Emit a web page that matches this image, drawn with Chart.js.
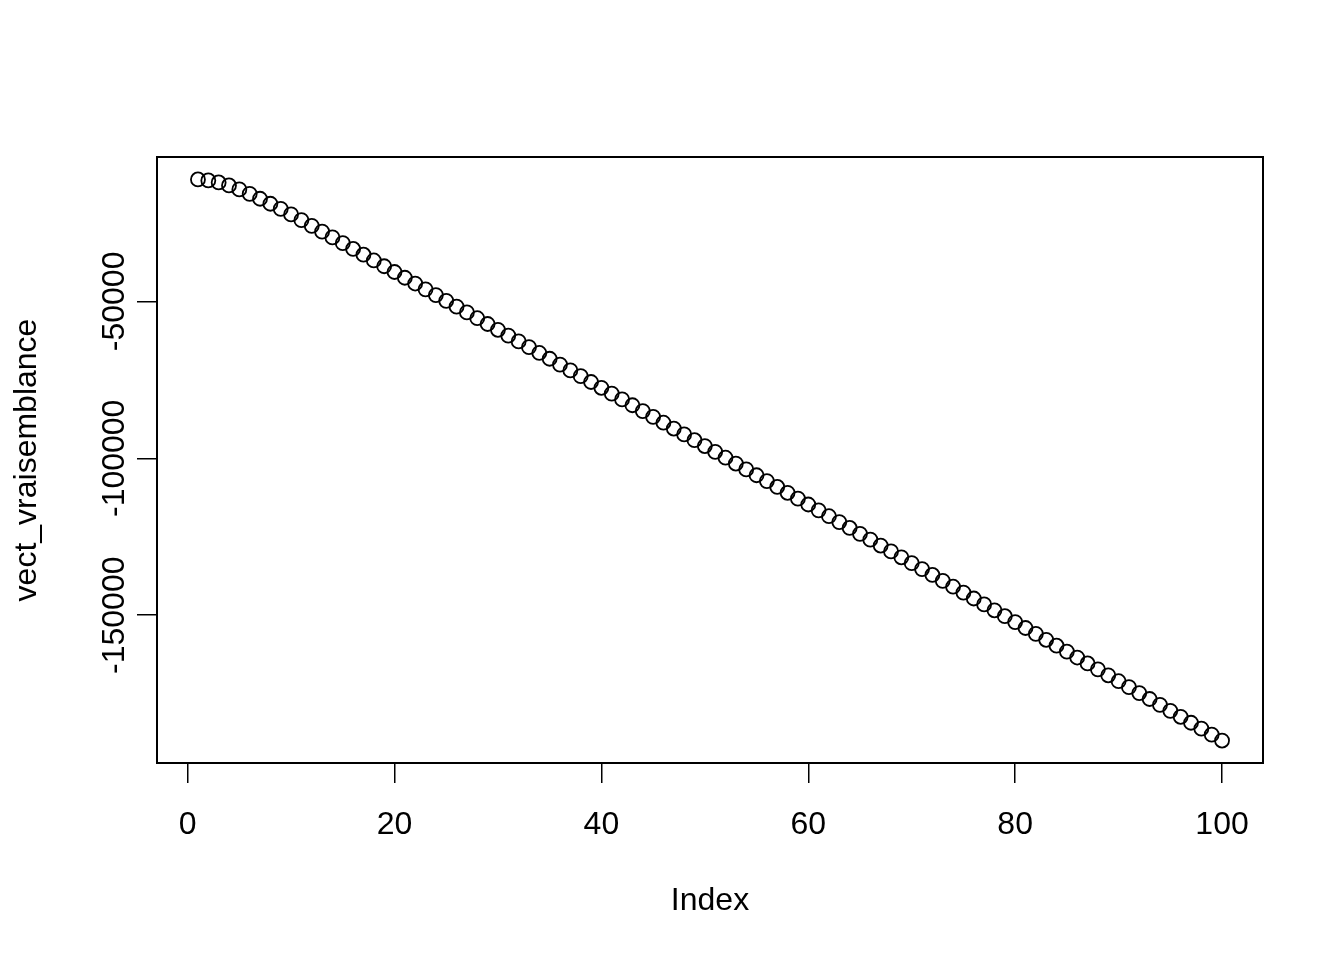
<!DOCTYPE html>
<html>
<head>
<meta charset="utf-8">
<script src="https://cdn.jsdelivr.net/npm/chart.js@4"></script>
<style>
    html, body { margin: 0; padding: 0; background: #fff; }
    #wrap { width: 1344px; height: 960px; }
</style>
</head>
<body>
<div id="wrap"><canvas id="plot" width="1344" height="960"></canvas></div>
<script>
// Values (index 1..100)
const vectVraisemblance = [
    -11147, -11465, -12102, -13057, -14331, -15764, -17293, -18885, -20541, -22293,
    -24124, -25956, -27789, -29622, -31456, -33291, -35126, -36962, -38799, -40637,
    -42475, -44314, -46154, -47994, -49835, -51677, -53520, -55363, -57207, -59052,
    -60897, -62743, -64590, -66437, -68285, -70134, -71984, -73834, -75685, -77537,
    -79389, -81242, -83096, -84951, -86806, -88662, -90519, -92376, -94234, -96093,
    -97953, -99813, -101674, -103535, -105398, -107261, -109124, -110989, -112854, -114720,
    -116587, -118454, -120322, -122191, -124060, -125930, -127801, -129672, -131545, -133418,
    -135291, -137166, -139041, -140917, -142793, -144670, -146548, -148426, -150306, -152186,
    -154066, -155948, -157830, -159712, -161596, -163480, -165365, -167251, -169137, -171024,
    -172911, -174800, -176689, -178579, -180469, -182360, -184252, -186145, -188038, -189932
];
const xTicks = [0, 20, 40, 60, 80, 100];
const yTicks = [-150000, -100000, -50000];
const xTitle = 'Index';
const yTitle = 'vect_vraisemblance';

const points = vectVraisemblance.map((v, i) => ({ x: i + 1, y: v }));

// R-style axis limits: data range widened by 4% on each side
function rRange(vals) {
    const lo = Math.min(...vals), hi = Math.max(...vals);
    const pad = (hi - lo) * 0.04;
    return { min: lo - pad, max: hi + pad };
}
const xr = rRange(points.map(p => p.x));
const yr = rRange(vectVraisemblance);

const FONT = '"Liberation Sans", Arial, Helvetica, sans-serif';
const SIZE = 32;

// Box around the plot region, like R's box()
const boxPlugin = {
    id: 'box',
    afterDraw(chart) {
        const { ctx, chartArea: a } = chart;
        ctx.save();
        ctx.strokeStyle = '#000';
        ctx.lineWidth = 2;
        ctx.strokeRect(a.left, a.top, a.right - a.left, a.bottom - a.top);
        ctx.restore();
    }
};

new Chart(document.getElementById('plot'), {
    type: 'scatter',
    data: {
        datasets: [{
            data: points,
            pointStyle: 'circle',
            pointRadius: 7,
            pointBorderWidth: 1.8,
            pointBorderColor: '#000',
            pointBackgroundColor: 'rgba(0,0,0,0)',
            showLine: false
        }]
    },
    options: {
        responsive: false,
        devicePixelRatio: 1,
        animation: false,
        layout: { padding: { left: 0, top: 157, right: 81, bottom: 0 } },
        plugins: {
            legend: { display: false },
            tooltip: { enabled: false }
        },
        scales: {
            x: {
                type: 'linear',
                min: xr.min,
                max: xr.max,
                afterBuildTicks: s => { s.ticks = xTicks.map(v => ({ value: v })); },
                afterFit: s => { s.height = 197; },
                grid: { drawOnChartArea: false, drawTicks: true, tickLength: 20, color: '#000', lineWidth: 1.5 },
                border: { display: true, color: '#000', width: 2 },
                ticks: { color: '#000', font: { family: FONT, size: SIZE }, padding: 23, maxRotation: 0, callback: v => String(v) },
                title: { display: true, text: xTitle, color: '#000', font: { family: FONT, size: SIZE }, padding: { top: 0, bottom: 40 } }
            },
            y: {
                type: 'linear',
                min: yr.min,
                max: yr.max,
                afterBuildTicks: s => { s.ticks = yTicks.map(v => ({ value: v })); },
                afterFit: s => { s.width = 157; },
                grid: { drawOnChartArea: false, drawTicks: true, tickLength: 20, color: '#000', lineWidth: 1.5 },
                border: { display: true, color: '#000', width: 2 },
                ticks: { color: '#000', font: { family: FONT, size: SIZE }, minRotation: 90, maxRotation: 90, crossAlign: 'center', padding: -37, callback: v => String(v) },
                title: { display: true, text: yTitle, color: '#000', font: { family: FONT, size: SIZE }, padding: { top: 8, bottom: 0 } }
            }
        }
    },
    plugins: [boxPlugin]
});
</script>
</body>
</html>
